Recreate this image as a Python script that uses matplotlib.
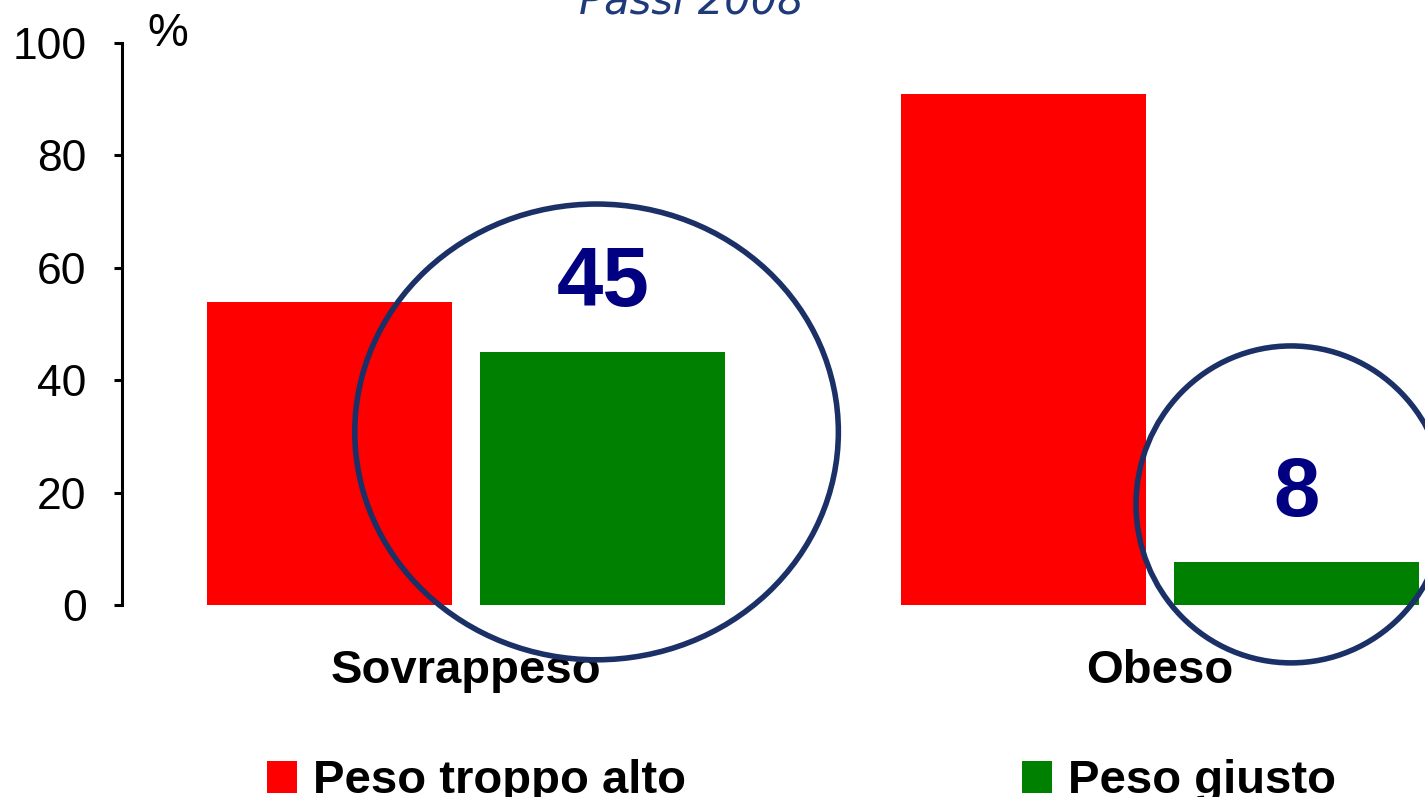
import matplotlib
matplotlib.use("Agg")
import matplotlib.pyplot as plt
from matplotlib.patches import Ellipse
import numpy as np

# data
categories = ["Sovrappeso", "Obeso"]
series_names = ["Peso troppo alto", "Peso giusto"]
troppo_alto = [54, 91]
giusto = [45, 7.7]
highlight_labels = ["45", "8"]
yticks = [0, 20, 40, 60, 80, 100]

plt.rcParams['font.family'] = ['Liberation Sans', 'DejaVu Sans']

fig = plt.figure(figsize=(14.25, 7.97), dpi=100)
ax = fig.add_axes([0.0856, 0.2409, 1 - 0.0856, 0.7051])

x = np.arange(len(categories))
w = 0.353
off = 0.197
ax.bar(x - off, troppo_alto, w, color="#FF0000", label=series_names[0])
ax.bar(x + off, giusto, w, color="#008000", label=series_names[1])

ax.set_xlim(-0.496, 1.382)
ax.set_ylim(0, 100)
ax.set_yticks(yticks)
ax.tick_params(axis='y', length=5.5, width=2.2, pad=20, labelsize=32)
ax.tick_params(axis='x', length=0, pad=32)
ax.set_xticks(x)
ax.set_xticklabels(categories, fontsize=34, fontweight='bold')
for s in ["top", "right", "bottom"]:
    ax.spines[s].set_visible(False)
ax.spines["left"].set_linewidth(2.2)

# circles around the "peso giusto" bars
circles = [((0.188, 30.8), 0.697, 81.1), ((1.189, 17.9), 0.447, 56.4)]
for (cx, cy), cw, ch in circles:
    ax.add_patch(Ellipse((cx, cy), cw, ch, fill=False, edgecolor="#1B3067",
                         linewidth=4, zorder=5, clip_on=False))

label_pos = [(x[0] + off, 57.2), (x[1] + off, 19.7)]
for (lx, ly), txt in zip(label_pos, highlight_labels):
    ax.text(lx, ly, txt, ha='center', va='center', fontsize=60,
            fontweight='bold', color="#000080", zorder=6)

fig.text(168 / 1425, 1 - 34 / 797, "%", fontsize=33, ha='center', va='center')
fig.text(0.485, 1 - 13 / 797, "Passi 2008", fontsize=30, style='italic',
         color="#1F3A7A", ha='center', va='baseline',
         family=['DejaVu Sans'])

fig.legend(loc='lower left', bbox_to_anchor=(267 / 1425, -0.008), ncol=2,
           frameon=False, prop={'weight': 'bold', 'size': 34},
           handlelength=0.64, handleheight=0.66, handletextpad=0.34,
           columnspacing=7.1, borderpad=0, borderaxespad=0)

fig.savefig("out.png", dpi=100)
